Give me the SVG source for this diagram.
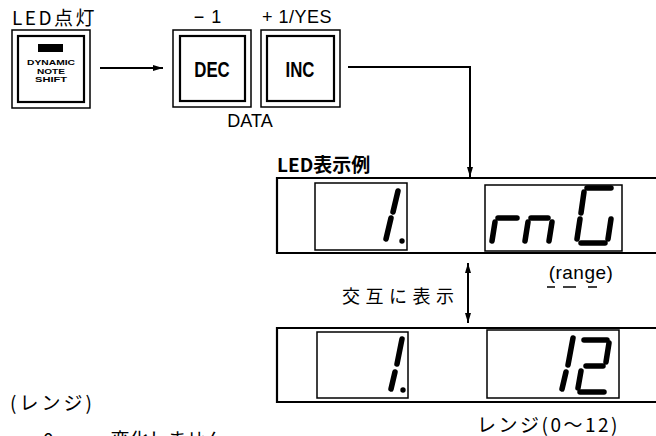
<svg xmlns="http://www.w3.org/2000/svg" width="656" height="436" viewBox="0 0 656 436">
<defs>
<style>
.t{font-family:"Liberation Sans","Noto Sans CJK JP",sans-serif;fill:#000}
.j{font-family:"Noto Sans CJK JP","Liberation Sans",sans-serif;fill:#000}
.fo{fill:none;stroke:#000;stroke-width:1.5}
.fi{fill:none;stroke:#000;stroke-width:2.2}
.box{fill:none;stroke:#000;stroke-width:2.2}
.win{fill:none;stroke:#000;stroke-width:1.5}
.seg{stroke:#000;stroke-width:5.5;stroke-linecap:round;fill:none}
.ln{stroke:#000;stroke-width:2;fill:none}
.sm{font-size:8px;font-weight:bold}
</style>
<marker id="ah" viewBox="0 0 10 6" refX="10" refY="3" markerWidth="10" markerHeight="6" markerUnits="userSpaceOnUse" orient="auto-start-reverse">
<path d="M0,0 L10,3 L0,6 Z" fill="#000"/>
</marker>
</defs>
<rect width="656" height="436" fill="#fff"/>

<g id="label-led-on"><text class="j" x="12" y="25" font-size="19" letter-spacing="2.5">LED点灯</text></g>

<g id="btn-dns">
<rect class="fo" x="12" y="30" width="78" height="78"/>
<rect class="fi" x="18" y="36" width="66" height="66"/>
<rect x="38" y="44" width="25" height="8" fill="#000"/>
<text class="t sm" x="27" y="65" textLength="48" lengthAdjust="spacingAndGlyphs">DYNAMIC</text>
<text class="t sm" x="37" y="73.5" textLength="28" lengthAdjust="spacingAndGlyphs">NOTE</text>
<text class="t sm" x="35" y="82" textLength="32" lengthAdjust="spacingAndGlyphs">SHIFT</text>
</g>

<g id="btn-dec">
<text class="t" x="208" y="23" font-size="18" text-anchor="middle" letter-spacing="1">− 1</text>
<rect class="fo" x="173" y="30" width="78" height="77"/>
<rect class="fi" x="180" y="36" width="65" height="65"/>
<text class="t" x="212" y="77" font-size="21" font-weight="bold" text-anchor="middle" transform="translate(212 77) scale(0.8 1.05) translate(-212 -77)">DEC</text>
</g>

<g id="btn-inc">
<text class="t" x="297" y="23" font-size="18" text-anchor="middle" letter-spacing="0.5">+ 1/YES</text>
<rect class="fo" x="261" y="30" width="79" height="77"/>
<rect class="fi" x="267" y="36" width="67" height="65"/>
<text class="t" x="300" y="77" font-size="21" font-weight="bold" text-anchor="middle" transform="translate(300 77) scale(0.8 1.05) translate(-300 -77)">INC</text>
</g>

<g id="label-data"><text class="t" x="250" y="127" font-size="18" text-anchor="middle">DATA</text></g>

<g id="label-led-example"><text class="j" x="277" y="172" font-size="19" font-weight="bold">LED表示例</text></g>

<g id="display-top">
<path class="box" d="M660,178 H277 V253 H660"/>
<rect class="win" x="315" y="183" width="92" height="67"/>
<line class="seg" x1="398" y1="191" x2="393" y2="212"/>
<line class="seg" x1="391" y1="218" x2="386" y2="239"/>
<circle cx="402" cy="241" r="2.7" fill="#000"/>
<rect class="win" x="485" y="185" width="137" height="66"/>
<line class="seg" x1="498" y1="218" x2="517" y2="218"/>
<line class="seg" x1="495" y1="222" x2="492" y2="241"/>
<line class="seg" x1="531" y1="218" x2="548" y2="218"/>
<line class="seg" x1="528" y1="222" x2="525" y2="241"/>
<line class="seg" x1="552" y1="222" x2="549" y2="241"/>
<line class="seg" x1="587" y1="188" x2="611" y2="188"/>
<line class="seg" x1="584" y1="192" x2="581" y2="213"/>
<line class="seg" x1="580" y1="219" x2="577" y2="239"/>
<line class="seg" x1="581" y1="243" x2="605" y2="243"/>
<line class="seg" x1="611" y1="219" x2="608" y2="239"/>
</g>

<g id="label-range">
<text class="t" x="581" y="279" font-size="19" text-anchor="middle" letter-spacing="0.5">(range)</text>
<line x1="547" y1="287" x2="555" y2="287" stroke="#000" stroke-width="1.5"/>
<line x1="563" y1="287" x2="576" y2="287" stroke="#000" stroke-width="1.5"/>
<line x1="588" y1="287" x2="597" y2="287" stroke="#000" stroke-width="1.5"/>
</g>

<g id="label-alternate"><text class="j" x="342" y="303" font-size="18" letter-spacing="5.5">交互に表示</text></g>

<g id="display-bottom">
<path class="box" d="M660,328 H277 V402 H660"/>
<rect class="win" x="317" y="332" width="91" height="66"/>
<line class="seg" x1="402" y1="339" x2="397" y2="364"/>
<line class="seg" x1="395" y1="372" x2="391" y2="389"/>
<circle cx="403" cy="390" r="2.7" fill="#000"/>
<rect class="win" x="487" y="330" width="132" height="68"/>
<line class="seg" x1="573" y1="338" x2="568" y2="365"/>
<line class="seg" x1="566" y1="372" x2="562" y2="389"/>
<line class="seg" x1="584" y1="340" x2="607" y2="340"/>
<line class="seg" x1="609" y1="343" x2="606" y2="362"/>
<line class="seg" x1="586" y1="366" x2="603" y2="366"/>
<line class="seg" x1="581" y1="371" x2="578" y2="388"/>
<line class="seg" x1="580" y1="392" x2="604" y2="392"/>
</g>

<g id="label-range-jp"><text class="j" x="477" y="432" font-size="19" letter-spacing="2.5">レンジ(0〜12)</text></g>

<g id="notes">
<text class="j" x="10" y="410" font-size="19" letter-spacing="3">(レンジ)</text>
<text class="j" x="43" y="447" font-size="19">0………変化しません.</text>
</g>

<g id="connectors">
<line class="ln" x1="100" y1="68" x2="163" y2="68" marker-end="url(#ah)"/>
<polyline class="ln" points="348,67 470,67 470,177" marker-end="url(#ah)"/>
<line class="ln" x1="468" y1="263" x2="468" y2="323" marker-start="url(#ah)" marker-end="url(#ah)"/>
</g>
</svg>
